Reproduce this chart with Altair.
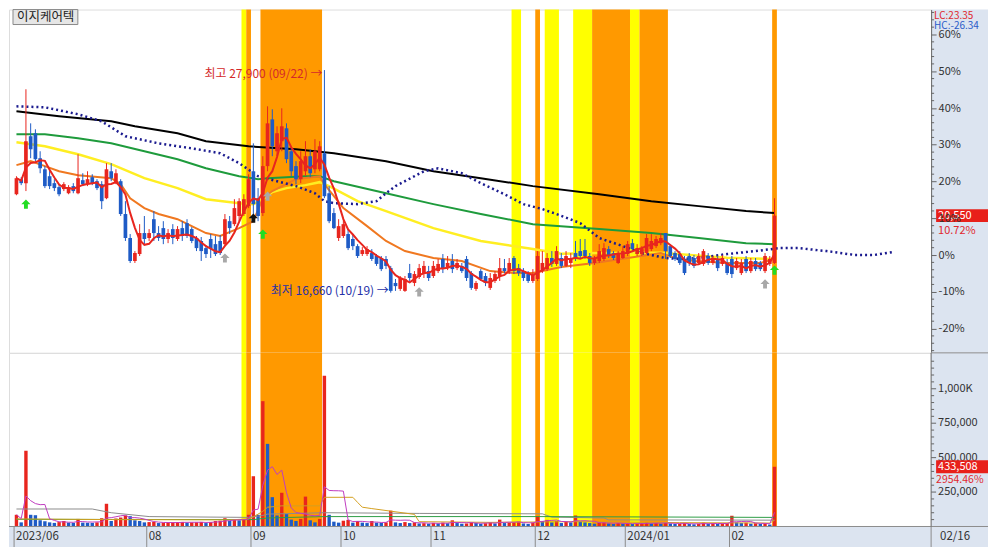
import altair as alt
import pandas as pd

FONT = "Noto Sans CJK KR"
STOCK_NAME = "이지케어텍"
BASE_PRICE = 18560          # price that reads 0% on the right axis
LC_TEXT = "LC:23.35"
HC_TEXT = "HC:-26.34"
LAST_DATE = "02/16"
LAST_PRICE_LABEL = "20,550"
LAST_PCT_LABEL = "10.72%"
LAST_VOL_LABEL = "433,508"
LAST_VOL_PCT_LABEL = "2954.46%"
HIGH_LABEL = "최고 27,900 (09/22) →"
LOW_LABEL = "최저 16,660 (10/19) →"
HIGH_IDX, HIGH_PRICE = 65, 27900
LOW_IDX, LOW_PRICE = 79, 16660

# ---- daily candles (bar index 0 = 2023-06-22 ... 160 = 2024-02-16) ----
OPEN = [
    21630, 22390, 22190, 24560, 24710, 23450, 22890, 22540, 22190, 21990,
    21890, 21680, 22040, 21680, 22340, 22140, 22490, 22290, 22140, 21430,
    22790, 22190, 22290, 20630, 19420, 18260, 18610, 19670, 19420, 20370,
    19670, 19920, 19370, 19870, 19370, 19920, 20170, 19870, 19420, 19270,
    18910, 19370, 19110, 19270, 19110, 20270, 20120, 20530, 20630, 21030,
    22790, 21430, 20680, 23050, 25410, 23800, 24310, 24960, 23800, 23050,
    22390, 22790, 23550, 22890, 22890, 23700, 21680, 20680, 19420, 19520,
    19620, 19370, 19010, 18610, 18610, 18660, 18510, 18410, 18360, 17900,
    17150, 16850, 16750, 17650, 17150, 17450, 17600, 17750, 17500, 17750,
    18360, 17900, 18260, 17900, 18010, 18360, 17650, 16850, 17750, 17500,
    16900, 17250, 17500, 17900, 17750, 18410, 17900, 17750, 17600, 17250,
    17350, 17750, 17850, 18410, 18110, 18410, 18010, 18160, 18660, 18760,
    18810, 18510, 18160, 18260, 18360, 18860, 18660, 18160, 18410, 18610,
    19160, 18610, 18610, 18660, 18860, 19010, 19160, 19670, 19010, 18660,
    18610, 18360, 18510, 18410, 18160, 18110, 18510, 18160, 18360, 18110,
    18160, 18360, 17900, 17650, 18360, 17750, 18260, 18160, 17750, 18110,
    18160]
HIGH = [
    22540, 22490, 26930, 25210, 24910, 23800, 23050, 22890, 22390, 22140,
    22240, 22090, 22190, 23650, 22690, 22790, 22640, 22390, 22290, 23200,
    23200, 22890, 22390, 21280, 19620, 18760, 20120, 20530, 19870, 20780,
    20020, 20270, 19870, 20120, 20020, 20270, 20370, 19970, 19520, 19470,
    19060, 19620, 19520, 19570, 20630, 20530, 21380, 21430, 21630, 22640,
    24200, 21940, 23550, 26070, 25920, 25060, 25970, 25210, 24050, 23300,
    23800, 24310, 23900, 24410, 24310, 27900, 22040, 20930, 20370, 20370,
    19870, 19620, 19110, 18960, 19010, 18860, 18610, 18510, 18510, 18010,
    17350, 17500, 17500, 18110, 17750, 18110, 18260, 18010, 18260, 18360,
    18610, 18510, 18610, 18360, 18160, 18510, 17750, 17250, 17850, 17650,
    17650, 17750, 18410, 18360, 18410, 18510, 18110, 17900, 17750, 17850,
    18760, 18760, 18660, 18760, 19010, 18660, 18760, 18660, 19270, 19370,
    19370, 18660, 18510, 19110, 19160, 19010, 18760, 18760, 19010, 19270,
    19370, 19110, 19010, 19620, 19620, 19520, 19670, 19670, 19110, 18760,
    18760, 18510, 18660, 18560, 18660, 18860, 18660, 18510, 18460, 18560,
    18360, 18510, 18410, 18360, 18510, 18410, 18410, 18260, 18660, 18510,
    21430]
LOW = [
    21580, 22090, 21790, 23450, 23300, 22690, 21940, 21890, 21790, 21530,
    21790, 21630, 21680, 21630, 22040, 22040, 22090, 21840, 20880, 21380,
    22290, 22140, 20530, 19270, 18160, 18160, 18510, 19110, 19270, 19270,
    19270, 19110, 19160, 19110, 19270, 19270, 19420, 19160, 18760, 18260,
    18410, 18410, 18510, 18560, 19010, 19620, 20020, 20270, 20530, 20930,
    20630, 20270, 20530, 22790, 23550, 23550, 23800, 23200, 22540, 22140,
    22190, 22540, 22490, 22690, 22790, 21430, 20170, 19870, 19270, 19420,
    18810, 18810, 18410, 18510, 18510, 18260, 18010, 17750, 17850, 16660,
    16750, 16750, 16700, 17250, 16990, 17350, 17400, 17250, 17400, 17650,
    17650, 17800, 17650, 17800, 17650, 17250, 16800, 16750, 17250, 16990,
    16800, 17150, 17250, 17650, 17600, 17600, 17500, 17250, 17150, 17150,
    17250, 17650, 17750, 17960, 18010, 17900, 17960, 17900, 18260, 18360,
    18360, 18010, 18060, 18160, 18260, 18410, 18310, 18110, 18360, 18510,
    18760, 18510, 18510, 18610, 18760, 18910, 19060, 18360, 18410, 18260,
    18060, 17550, 18010, 17900, 18060, 18010, 18060, 18060, 17750, 18010,
    17550, 17400, 17800, 17550, 17650, 17650, 17750, 17750, 17650, 18010,
    18110]
CLOSE = [
    22440, 22190, 24310, 23900, 23400, 22940, 22040, 22040, 21940, 21630,
    22140, 21990, 21790, 22440, 22140, 22390, 22190, 21940, 21280, 22890,
    22440, 22690, 20630, 19420, 18260, 18660, 19670, 19370, 19670, 19670,
    19420, 19370, 19670, 19420, 19870, 19520, 19520, 19270, 18910, 18760,
    18610, 18860, 18610, 18660, 20370, 19920, 20930, 21280, 21380, 22390,
    21130, 20530, 23050, 25210, 24050, 24710, 25060, 23400, 22790, 22390,
    23300, 23550, 22690, 23800, 24050, 21530, 20270, 19920, 20020, 20120,
    18910, 19010, 18510, 18810, 18860, 18360, 18110, 17850, 18010, 16750,
    16990, 17400, 17350, 17400, 17600, 17900, 18010, 17400, 18010, 18110,
    17900, 18160, 17850, 18160, 17750, 17400, 16900, 17150, 17350, 17150,
    17400, 17600, 17900, 17750, 18160, 17750, 17650, 17400, 17250, 17600,
    18510, 18160, 18410, 18110, 18760, 18010, 18510, 18410, 18410, 18510,
    18510, 18160, 18360, 18760, 18910, 18510, 18410, 18610, 18760, 19110,
    18860, 18910, 18860, 19420, 19270, 19370, 19420, 18760, 18510, 18360,
    18160, 17650, 18160, 18010, 18510, 18760, 18160, 18410, 17900, 18410,
    17650, 17600, 18260, 18160, 17750, 18260, 17850, 17850, 18510, 18360,
    20550]
VOLUME = [
    85000, 30000, 550000, 85000, 82000, 45000, 38000, 30000, 26000, 32000,
    40000, 28000, 26000, 55000, 28000, 27000, 26000, 30000, 60000, 165000,
    40000, 58000, 65000, 80000, 75000, 45000, 40000, 30000, 32000, 33000,
    25000, 27000, 28000, 30000, 32000, 33000, 28000, 30000, 31000, 33000,
    25000, 32000, 40000, 42000, 60000, 40000, 52000, 45000, 50000, 85000,
    365000, 85000, 910000, 600000, 213000, 80000, 245000, 90000, 50000, 40000,
    55000, 217000, 45000, 30000, 55000, 1094000, 85000, 35000, 28000, 42000,
    48000, 28000, 40000, 28000, 25000, 40000, 28000, 26000, 30000, 115000,
    30000, 25000, 32000, 25000, 30000, 22000, 24000, 20000, 26000, 22000,
    28000, 24000, 45000, 25000, 20000, 22000, 30000, 26000, 20000, 24000,
    30000, 22000, 50000, 25000, 28000, 30000, 35000, 22000, 18000, 28000,
    76000, 40000, 48000, 30000, 40000, 25000, 35000, 30000, 80000, 35000,
    30000, 25000, 20000, 28000, 30000, 22000, 18000, 25000, 20000, 22000,
    18000, 20000, 24000, 30000, 22000, 25000, 20000, 30000, 22000, 18000,
    20000, 25000, 18000, 16000, 20000, 28000, 20000, 22000, 18000, 22000,
    25000, 78000, 30000, 25000, 28000, 20000, 24000, 18000, 22000, 14190,
    433508]

# ---- moving-average lines (bar index, price) ----
MA240_IDX = [0, 9, 20, 25, 34, 40, 49, 59, 67, 78, 88, 98, 109, 123, 134, 144, 154, 160]
MA240_VAL = [25820, 25570, 25310, 25060, 24710, 24310, 24050, 23900, 23700, 23300,
             22790, 22440, 22040, 21630, 21280, 21030, 20780, 20680]
MA120_IDX = [0, 6, 13, 20, 27, 34, 40, 47, 51, 53, 61, 64, 67, 78, 88, 98, 109, 123,
             134, 144, 154, 160]
MA120_VAL = [24660, 24660, 24460, 24200, 23800, 23400, 22940, 22540, 22390, 22440,
             22540, 22540, 22290, 21680, 21130, 20630, 20120, 19870, 19670, 19420,
             19160, 19110]
MA60_IDX = [0, 6, 13, 20, 27, 34, 40, 47, 50, 52, 54, 57, 61, 64, 65, 66, 72, 78, 88,
            98, 109, 115, 123, 136, 150, 160]
MA60_VAL = [24250, 24050, 23650, 23150, 22440, 21940, 21380, 21180, 21130, 21380,
            21740, 21940, 22090, 22240, 22140, 22040, 21280, 20780, 19920, 19270,
            18860, 18620, 18660, 18670, 18420, 18360]
MA20_IDX = [0, 3, 6, 9, 13, 20, 22, 24, 27, 30, 34, 37, 40, 43, 47, 50, 52, 54, 59, 64,
            65, 66, 69, 74, 78, 82, 88, 94, 100, 105, 109, 115, 122, 129, 136, 139,
            143, 150, 157, 160]
MA20_VAL = [23100, 23300, 23050, 22790, 22590, 22440, 22140, 21430, 20930, 20630,
            20370, 20020, 19670, 19520, 19920, 20270, 21430, 21790, 22390, 22540,
            22140, 21840, 20930, 20020, 19270, 18760, 18410, 18260, 17750, 17650,
            17650, 17960, 18160, 18410, 18660, 18410, 18260, 18160, 18160, 18360]
LEAD_IDX = [0, 6, 13, 18, 23, 30, 37, 43, 47, 51, 55, 59, 63, 65, 67, 72, 76, 78, 80,
            82, 86, 89, 94, 98, 103, 107, 111, 114, 119, 123, 128, 132, 137, 140, 144,
            150, 156, 161, 165, 171, 177, 181, 185]
LEAD_VAL = [26070, 26020, 25670, 25310, 24560, 24200, 23950, 23700, 23200, 22540,
            22290, 22040, 21680, 21280, 21180, 21130, 21280, 21680, 22040, 22290,
            22790, 22940, 22690, 22190, 21630, 21130, 20880, 20630, 20170, 19420,
            19010, 18660, 18410, 18360, 18410, 18610, 18760, 18910, 18910, 18760,
            18560, 18560, 18710]

# ---- volume average lines (bar index, shares) ----
VMA20_IDX = [0, 20, 45, 49, 50, 52, 53, 56, 64, 65, 71, 72, 73, 75, 84, 85, 100, 118, 140, 159, 160]
VMA20_VAL = [55000, 50000, 48000, 55000, 70000, 110000, 140000, 150000, 150000, 212000,
             212000, 175000, 140000, 130000, 88000, 35000, 30000, 35000, 28000, 25000, 45000]
VMA60_IDX = [0, 16, 20, 28, 49, 52, 53, 65, 85, 111, 113, 124, 125, 160]
VMA60_VAL = [127000, 127000, 100000, 72000, 66000, 80000, 90000, 100000, 95000, 92000,
             68000, 62000, 48000, 46000]
VMA120_IDX = [0, 50, 53, 65, 110, 160]
VMA120_VAL = [52000, 50000, 62000, 72000, 72000, 66000]

# ---- highlighted periods (first bar, last bar, colour) ----
BAND_START = [48, 49, 52, 105, 110, 112, 118, 122, 130, 132, 160]
BAND_END = [48, 49, 64, 106, 110, 114, 121, 129, 131, 137, 160]
BAND_COLOR = ["#FFFF00", "#FF9900", "#FF9900", "#FFFF00", "#FF9900", "#FFFF00",
              "#FFFF00", "#FF9900", "#FFFF00", "#FF9900", "#FF9900"]

# ---- signal arrows ----
SIG_IDX = [2, 52, 160, 50, 44, 53, 85, 158]
SIG_PRICE = [21130, 19620, 17800, 20420, 18410, 21530, 16700, 17100]
SIG_COLOR = ["#22DD22", "#22DD22", "#22DD22", "#111111", "#A8A8A8", "#A8A8A8",
             "#A8A8A8", "#A8A8A8"]

# ---- axes ----
MONTH_IDX = [0, 28, 50, 69, 88, 110, 129, 151]
MONTH_LABELS = ["2023/06", "08", "09", "10", "11", "12", "2024/01", "02"]
PCT_TICKS = [-20, -10, 0, 10, 20, 30, 40, 50, 60]
PCT_MINOR = [p for p in range(-26, 67, 2) if p % 10 != 0]
VOL_TICKS = [250000, 500000, 750000, 1000000]
VOL_TICK_LABELS = ["250,000", "500,000", "750,000", "1,000K"]
VOL_MINOR = [v for v in range(50000, 1250001, 50000) if v % 250000 != 0]

# ---------------- layout / style ----------------
W, H1, H2, BAND_H, RB = 924, 344, 174, 21, 57
RED, BLUE = "#E8251E", "#1E5BC6"
AXBG = "#DCE4F0"
GRID = "#8C8C8C"
AXC = "#666666"
LBL = 11
ARROW = "M0,-1L1,0L0.42,0L0.42,1L-0.42,1L-0.42,0L-1,0Z"

xs = alt.Scale(domain=[-0.52, 192.0], nice=False, zero=False)
ps = alt.Scale(domain=[13621, 30956], nice=False, zero=False)
vs = alt.Scale(domain=[0, 1260870], nice=False, zero=False)

N = len(CLOSE)
candles = pd.DataFrame({"i": list(range(N)), "o": OPEN, "h": HIGH, "l": LOW,
                        "c": CLOSE, "v": VOLUME})
candles["vup"] = [True] + [VOLUME[k] > VOLUME[k - 1] for k in range(1, N)]

bands = pd.DataFrame({"s": BAND_START, "e": BAND_END, "col": BAND_COLOR})
bands["x0"] = bands["s"] - 0.5
bands["x1"] = bands["e"] + 0.5

one = pd.DataFrame({"k": [0]})

PRICE_AXIS = alt.Axis(
    orient="right", values=[BASE_PRICE * (1 + p / 100) for p in PCT_TICKS],
    labelExpr=f"round((datum.value / {BASE_PRICE} - 1) * 100) + '%'",
    title=None, grid=False, tickSize=5, tickColor=AXC, domainColor=AXC,
    labelColor="#333333", labelFont=FONT, labelFontSize=LBL, labelPadding=2,
    zindex=1, labelFlush=False, labelOverlap=False)

X = alt.X("i:Q", scale=xs, axis=None)


def PY(f):
    return alt.Y(f, scale=ps, axis=PRICE_AXIS)


def VY(f):
    return alt.Y(f, scale=vs, axis=None)


def band_layer(h):
    return alt.Chart(bands).mark_rect().encode(
        x=alt.X("x0:Q", scale=xs, axis=None), x2="x1:Q",
        y=alt.value(0), y2=alt.value(h), color=alt.Color("col:N", scale=None))


def line_layer(idx, val, yfun, color, width, dash=None):
    df = pd.DataFrame({"i": idx, "p": val})
    kw = dict(color=color, strokeWidth=width)
    if dash:
        kw["strokeDash"] = dash
    return alt.Chart(df).mark_line(**kw).encode(x=X, y=yfun("p:Q"))


cand_color = alt.condition("datum.c >= datum.o", alt.value(RED), alt.value(BLUE))

# ---------------- price panel ----------------
wicks = alt.Chart(candles).mark_rule(strokeWidth=1).encode(
    x=X, y=PY("l:Q"), y2="h:Q", color=cand_color)
bodies = alt.Chart(candles).mark_bar(width=3.7).encode(
    x=X, y=PY("o:Q"), y2="c:Q", color=cand_color)
ma5 = alt.Chart(candles).transform_window(
    ma5="mean(c)", frame=[-4, 0], sort=[alt.SortField("i", order="ascending")]
).mark_line(color=RED, strokeWidth=2).encode(x=X, y=PY("ma5:Q"))

sig_df = pd.DataFrame({"i": SIG_IDX, "p": SIG_PRICE, "col": SIG_COLOR})
signals = alt.Chart(sig_df).mark_point(
    shape=ARROW, filled=True, size=85, opacity=1, strokeWidth=0).encode(
    x=X, y=PY("p:Q"), color=alt.Color("col:N", scale=None))

hi_df = pd.DataFrame({"i": [HIGH_IDX], "p": [HIGH_PRICE], "t": [HIGH_LABEL]})
lo_df = pd.DataFrame({"i": [LOW_IDX], "p": [LOW_PRICE], "t": [LOW_LABEL]})
hi_txt = alt.Chart(hi_df).mark_text(
    align="right", baseline="middle", dx=-2, dy=4, fontSize=12, font=FONT,
    color="#D42A2A").encode(x=X, y=PY("p:Q"), text="t:N")
lo_txt = alt.Chart(lo_df).mark_text(
    align="right", baseline="middle", dx=-2, dy=-2, fontSize=12, font=FONT,
    color="#2430A8").encode(x=X, y=PY("p:Q"), text="t:N")

strip1 = alt.Chart(one).mark_rect(color=AXBG).encode(
    x=alt.value(W), x2=alt.value(W + RB), y=alt.value(0), y2=alt.value(H1))
minor1 = alt.Chart(pd.DataFrame({"p": [BASE_PRICE * (1 + p / 100) for p in PCT_MINOR]})
                   ).mark_rule(color=AXC).encode(
    x=alt.value(W), x2=alt.value(W + 3), y=PY("p:Q"))
lc_txt = alt.Chart(one).mark_text(
    align="left", baseline="middle", fontSize=10, font=FONT, color="#E0282E",
    text=LC_TEXT).encode(x=alt.value(W + 3), y=alt.value(6.5))
hc_txt = alt.Chart(one).mark_text(
    align="left", baseline="middle", fontSize=10, font=FONT, color="#2A5CC8",
    text=HC_TEXT).encode(x=alt.value(W + 3), y=alt.value(16))

ptag_df = pd.DataFrame({"p": [CLOSE[-1]], "t": [LAST_PRICE_LABEL], "q": [LAST_PCT_LABEL]})
ptag = alt.Chart(ptag_df).mark_tick(
    orient="horizontal", size=52, thickness=13, color="#E8201A", opacity=1).encode(
    x=alt.value(W + 31), y=PY("p:Q"))
ptag_t = alt.Chart(ptag_df).mark_text(
    align="left", baseline="middle", fontSize=LBL, font=FONT, color="white").encode(
    x=alt.value(W + 7), y=PY("p:Q"), text="t:N")
ptag_q = alt.Chart(ptag_df).mark_text(
    align="left", baseline="middle", dy=15, fontSize=LBL, font=FONT, color="#E0282E").encode(
    x=alt.value(W + 7), y=PY("p:Q"), text="q:N")

title_box = alt.Chart(one).mark_rect(fill="#E6E6E6", stroke="#8A8A8A", strokeWidth=1).encode(
    x=alt.value(4), x2=alt.value(69), y=alt.value(0), y2=alt.value(15))
title_txt = alt.Chart(one).mark_text(
    align="left", baseline="middle", fontSize=12.5, font=FONT, color="#222222",
    text=STOCK_NAME).encode(x=alt.value(8), y=alt.value(7.5))

price_panel = alt.layer(
    band_layer(H1),
    line_layer(MA240_IDX, MA240_VAL, PY, "#000000", 2),
    line_layer(MA120_IDX, MA120_VAL, PY, "#1E9B3C", 2),
    line_layer(MA60_IDX, MA60_VAL, PY, "#FFEE22", 2.5),
    line_layer(MA20_IDX, MA20_VAL, PY, "#F07820", 2),
    line_layer(LEAD_IDX, LEAD_VAL, PY, "#1B1B8F", 2.5, [2, 3]),
    wicks, bodies, ma5, signals, hi_txt, lo_txt,
    strip1, minor1, lc_txt, hc_txt, ptag, ptag_t, ptag_q,
    title_box, title_txt,
).properties(width=W, height=H1)

# ---------------- volume panel ----------------
vbars = alt.Chart(candles).mark_bar(width=3.4).encode(
    x=X, y=VY("v:Q"),
    color=alt.condition("datum.vup", alt.value(RED), alt.value(BLUE)))
vma5 = alt.Chart(candles).transform_window(
    vma5="mean(v)", frame=[-4, 0], sort=[alt.SortField("i", order="ascending")]
).mark_line(color="#C03CC0", strokeWidth=1).encode(x=X, y=VY("vma5:Q"))

strip2 = alt.Chart(one).mark_rect(color=AXBG).encode(
    x=alt.value(W), x2=alt.value(W + RB), y=alt.value(0), y2=alt.value(H2 + BAND_H))
xband = alt.Chart(one).mark_rect(color=AXBG).encode(
    x=alt.value(0), x2=alt.value(W + RB), y=alt.value(H2), y2=alt.value(H2 + BAND_H))
sep_top = alt.Chart(one).mark_rule(color=GRID).encode(
    x=alt.value(W), x2=alt.value(W + RB), y=alt.value(0))
sep_band = alt.Chart(one).mark_rule(color=GRID).encode(
    x=alt.value(0), x2=alt.value(W + RB), y=alt.value(H2))
sep_vert = alt.Chart(one).mark_rule(color=GRID).encode(
    x=alt.value(W), y=alt.value(H2), y2=alt.value(H2 + BAND_H))

months = pd.DataFrame({"i": MONTH_IDX, "t": MONTH_LABELS})
months["b"] = months["i"] - 0.5
m_rules = alt.Chart(months).mark_rule(color=GRID).encode(
    x=alt.X("b:Q", scale=xs, axis=None), y=alt.value(H2), y2=alt.value(H2 + BAND_H))
m_text = alt.Chart(months).mark_text(
    align="left", baseline="middle", dx=2, fontSize=11.5, font=FONT, color="#333333").encode(
    x=alt.X("b:Q", scale=xs, axis=None), y=alt.value(H2 + 11), text="t:N")
date_txt = alt.Chart(one).mark_text(
    align="left", baseline="middle", fontSize=11.5, font=FONT, color="#333333",
    text=LAST_DATE).encode(x=alt.value(W + 9), y=alt.value(H2 + 11))

# volume scale drawn by hand so the last-volume tag can sit on top of it
vdomain = alt.Chart(one).mark_rule(color=AXC).encode(
    x=alt.value(W), y=alt.value(0), y2=alt.value(H2))
minor2 = alt.Chart(pd.DataFrame({"v": VOL_MINOR})).mark_rule(color=AXC).encode(
    x=alt.value(W), x2=alt.value(W + 3), y=VY("v:Q"))
vt_df = pd.DataFrame({"v": VOL_TICKS, "t": VOL_TICK_LABELS})
vticks = alt.Chart(vt_df).mark_rule(color=AXC).encode(
    x=alt.value(W), x2=alt.value(W + 5), y=VY("v:Q"))
vlabels = alt.Chart(vt_df).mark_text(
    align="left", baseline="middle", fontSize=LBL, font=FONT, color="#333333").encode(
    x=alt.value(W + 7), y=VY("v:Q"), text="t:N")

vtag_df = pd.DataFrame({"v": [VOLUME[-1]], "t": [LAST_VOL_LABEL], "q": [LAST_VOL_PCT_LABEL]})
vtag = alt.Chart(vtag_df).mark_tick(
    orient="horizontal", size=52, thickness=13, color="#E8201A", opacity=1).encode(
    x=alt.value(W + 31), y=VY("v:Q"))
vtag_t = alt.Chart(vtag_df).mark_text(
    align="left", baseline="middle", fontSize=LBL, font=FONT, color="white").encode(
    x=alt.value(W + 7), y=VY("v:Q"), text="t:N")
vtag_q = alt.Chart(vtag_df).mark_text(
    align="left", baseline="middle", dy=13, fontSize=10.5, font=FONT, color="#E0282E").encode(
    x=alt.value(W + 5), y=VY("v:Q"), text="q:N")

vol_panel = alt.layer(
    band_layer(H2), vbars,
    line_layer(VMA60_IDX, VMA60_VAL, VY, "#8C8C8C", 1),
    line_layer(VMA120_IDX, VMA120_VAL, VY, "#2E9E46", 1),
    line_layer(VMA20_IDX, VMA20_VAL, VY, "#D4A020", 1),
    vma5,
    strip2, xband, sep_top, sep_band, sep_vert, m_rules, m_text, date_txt,
    vdomain, minor2, vticks, vlabels, vtag, vtag_t, vtag_q,
).properties(width=W, height=H2)

chart = alt.vconcat(price_panel, vol_panel, spacing=0, bounds="flush").properties(
    padding=0, background="white",
).configure_view(stroke=GRID, strokeWidth=1).configure(font=FONT)

chart.save("out.html", embed_options={"renderer": "svg", "actions": False})
